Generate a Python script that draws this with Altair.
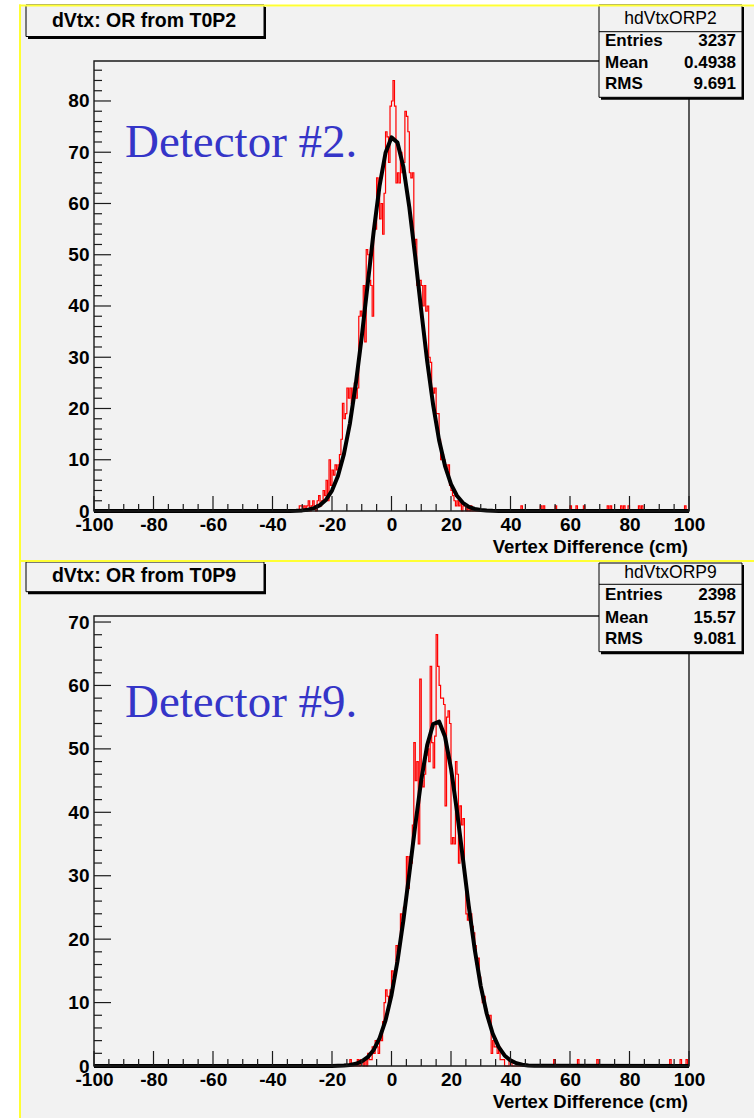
import altair as alt
import pandas as pd

# ---------------------------------------------------------------------------
# Histogram definition: 400 bins of 0.5 cm on [-100, 100]
# ---------------------------------------------------------------------------
BIN_W = 0.5
X_MIN, X_MAX = -100.0, 100.0

# T0P2: counts per 0.5 cm bin, starting at the given lower edge
p2_core_start = -32.0
p2_core_counts = [
    0, 0, 1, 1, 0, 1, 0, 1, 2, 0,
    1, 2, 1, 0, 2, 3, 1, 2, 4, 3,
    6, 2, 10, 5, 8, 7, 9, 8, 9, 11,
    14, 21, 18, 19, 24, 22, 24, 21, 24, 25,
    22, 24, 38, 39, 38, 44, 33, 51, 50, 45,
    44, 38, 56, 55, 65, 62, 57, 60, 54, 62,
    74, 73, 68, 79, 80, 84, 79, 64, 66, 64,
    70, 66, 68, 78, 77, 74, 66, 65, 66, 52,
    53, 44, 43, 45, 44, 40, 44, 39, 40, 30,
    29, 24, 23, 24, 19, 19, 14, 10, 11, 10,
    9, 8, 9, 5, 4, 3, 2, 1, 2, 1,
    2, 0, 1, 1, 0, 1, 0, 1,
]
# isolated single entries far from the peak (lower bin edges)
p2_tail_edges = [43.5, 50.0, 51.0, 55.0, 60.0, 62.0, 64.5, 72.5, 73.5,
                 77.0, 78.0, 79.5, 83.0, 84.0, 98.5]
p2_tail_counts = [1] * len(p2_tail_edges)

# T0P2 gaussian fit curve, sampled every 2 cm
p2_fit_x = [-100, -36, -34, -32, -30, -28, -26, -24, -22, -20, -18, -16, -14,
            -12, -10, -8, -6, -4, -2, 0, 2, 4, 6, 8, 10, 12, 14, 16, 18, 20,
            22, 24, 26, 28, 30, 32, 34, 36, 100]
p2_fit_y = [0.0, 0.01, 0.02, 0.05, 0.12, 0.26, 0.57, 1.15, 2.2, 3.99, 6.83,
            11.1, 17.0, 24.8, 34.0, 44.3, 54.5, 63.5, 69.9, 72.9, 71.9, 67.1,
            59.2, 49.5, 39.1, 29.2, 20.7, 13.8, 8.77, 5.25, 2.98, 1.6, 0.81,
            0.39, 0.18, 0.08, 0.03, 0.01, 0.0]

# T0P9
p9_core_start = -14.0
p9_core_counts = [
    1, 0, 0, 0, 0, 1, 0, 1, 1, 0,
    1, 0, 2, 1, 1, 3, 2, 4, 3, 2,
    5, 4, 7, 10, 12, 11, 10, 12, 15, 14,
    15, 19, 18, 19, 24, 23, 25, 26, 33, 28,
    33, 32, 38, 51, 45, 48, 35, 61, 45, 44,
    46, 49, 50, 48, 63, 51, 47, 52, 68, 63,
    60, 58, 58, 57, 41, 55, 56, 54, 35, 36,
    35, 48, 46, 32, 41, 38, 39, 30, 24, 23,
    25, 24, 22, 21, 19, 16, 17, 14, 12, 10,
    11, 9, 8, 7, 8, 2, 4, 3, 3, 2,
    3, 1, 1, 1, 0, 0, 0, 1, 1,
]
p9_tail_edges = [54.5, 62.5, 69.0, 93.5, 97.0, 99.0]
p9_tail_counts = [1] * len(p9_tail_edges)

p9_fit_x = [-100, -20, -18, -16, -14, -12, -10, -8, -6, -4, -2, 0, 2, 4, 6, 8,
            10, 12, 14, 16, 18, 20, 22, 24, 26, 28, 30, 32, 34, 36, 38, 40, 42,
            44, 46, 48, 50, 100]
p9_fit_y = [0.0, 0.01, 0.03, 0.07, 0.16, 0.35, 0.72, 1.39, 2.54, 4.39, 7.2,
            11.2, 16.5, 23.0, 30.4, 38.0, 45.1, 50.6, 53.9, 54.3, 51.9, 46.9,
            40.2, 32.7, 25.1, 18.3, 12.6, 8.27, 5.12, 3.01, 1.67, 0.88, 0.44,
            0.21, 0.09, 0.04, 0.02, 0.0]

# statistics boxes
p2_stats = {"name": "hdVtxORP2", "entries": "3237", "mean": "0.4938", "rms": "9.691"}
p9_stats = {"name": "hdVtxORP9", "entries": "2398", "mean": "15.57", "rms": "9.081"}

# axis ticks
x_major = list(range(-100, 101, 20))
x_minor = [v for v in range(-100, 101, 5) if v % 20 != 0]

# ---------------------------------------------------------------------------
# Styling
# ---------------------------------------------------------------------------
W, H = 595, 450
FONT = "Liberation Sans"
SERIF = "Liberation Serif"
CANVAS = "#f2f2f2"
YELLOW = "#ffff33"
BLUE = "#3535c8"
RED = "#ff0000"
INK = "#1a1a1a"


def hist_frame(start, counts, tail_edges, tail_counts):
    n = int(round((X_MAX - X_MIN) / BIN_W))
    vals = [0] * n
    i0 = int(round((start - X_MIN) / BIN_W))
    for k, c in enumerate(counts):
        vals[i0 + k] = c
    for e, c in zip(tail_edges, tail_counts):
        vals[int(round((e - X_MIN) / BIN_W))] += c
    edges = [X_MIN + BIN_W * i for i in range(n)] + [X_MAX]
    return pd.DataFrame({"x": edges, "count": vals + [vals[-1]]})


def one():
    return pd.DataFrame({"k": [0]})


def rect(x, x2, y, y2, fill, stroke=None, sw=0, fill_opacity=1.0):
    kw = dict(fill=fill, strokeWidth=sw, fillOpacity=fill_opacity)
    if stroke:
        kw["stroke"] = stroke
    return alt.Chart(one()).mark_rect(**kw).encode(
        x=alt.value(x), x2=alt.value(x2), y=alt.value(y), y2=alt.value(y2)
    )


def hline(x, x2, y, color=INK, sw=1.2):
    return alt.Chart(one()).mark_rule(color=color, strokeWidth=sw).encode(
        x=alt.value(x), x2=alt.value(x2), y=alt.value(y)
    )


def label(s, x, y, size, align="left", weight="bold", color="black", font=FONT):
    return alt.Chart(one()).mark_text(
        text=s, align=align, baseline="alphabetic", fontSize=size,
        fontWeight=weight, font=font, color=color,
    ).encode(x=alt.value(x), y=alt.value(y))


def panel(hist, fit_x, fit_y, y_top, y_label_max, stats, title, detector,
          geo, first):
    xs = alt.Scale(domain=[X_MIN, X_MAX], nice=False, zero=False)
    ys = alt.Scale(domain=[0, y_top], nice=False, zero=True)
    ax_x = alt.Axis(values=x_major, labelFont=FONT, labelFontSize=19,
                    labelFontWeight="bold", labelColor="black", labelPadding=4,
                    labelFlush=False, labelOverlap=False, ticks=False,
                    domain=False, grid=False, title=None, zindex=1,
                    labelExpr="'' + datum.value")
    y_major = list(range(0, y_label_max + 1, 10))
    y_minor = [v for v in range(0, int(y_top) + 1, 2) if v % 10 != 0]
    ax_y = alt.Axis(values=y_major, labelFont=FONT, labelFontSize=19,
                    labelFontWeight="bold", labelColor="black", labelPadding=5,
                    labelFlush=False, labelOverlap=False, ticks=False,
                    domain=False, grid=False, title=None, zindex=1,
                    labelExpr="'' + datum.value")

    layers = []
    if first:
        # page background and the gray canvas of both pads
        layers.append(rect(-94, 660, -61, 1057, "white"))
        layers.append(rect(-73, 660, -54.5, 1057, CANVAS))

    layers.append(
        alt.Chart(hist).mark_line(interpolate="step-after", color=RED,
                                  strokeWidth=1.2).encode(
            x=alt.X("x:Q", scale=xs, axis=ax_x),
            y=alt.Y("count:Q", scale=ys, axis=ax_y),
        )
    )
    layers.append(
        alt.Chart(pd.DataFrame({"x": fit_x, "f": fit_y})).mark_line(
            color="black", strokeWidth=4, strokeJoin="round"
        ).encode(
            x=alt.X("x:Q", scale=xs, axis=ax_x),
            y=alt.Y("f:Q", scale=ys, axis=ax_y),
        )
    )
    # inward ticks on the x axis
    for vals, length in ((x_major, 15), (x_minor, 7)):
        layers.append(
            alt.Chart(pd.DataFrame({"t": vals})).mark_rule(
                color=INK, strokeWidth=1.2).encode(
                x=alt.X("t:Q", scale=xs, axis=ax_x),
                y=alt.value(H), y2=alt.value(H - length),
            )
        )
    # inward ticks on the y axis
    for vals, length in ((y_major, 17), (y_minor, 8)):
        layers.append(
            alt.Chart(pd.DataFrame({"t": vals})).mark_rule(
                color=INK, strokeWidth=1.2).encode(
                y=alt.Y("t:Q", scale=ys, axis=ax_y),
                x=alt.value(0), x2=alt.value(length),
            )
        )
    # frame
    layers.append(rect(0, W, 0, H, CANVAS, stroke=INK, sw=1.4, fill_opacity=0))

    # axis title and detector tag
    layers.append(label("Vertex Difference (cm)", 594, H + 42, 18.5, align="right"))
    layers.append(label(detector, 31, geo["det"], 47, weight="normal",
                        color=BLUE, font=SERIF))

    # histogram title box
    t_top, t_bot = geo["title_box"]
    layers.append(rect(-66, 172, t_top + 2, t_bot + 2.5, "black"))
    layers.append(rect(-68, 170, t_top, t_bot, CANVAS, stroke="black", sw=1))
    layers.append(label(title, 50, geo["title_base"], 19.5, align="center"))

    # statistics box
    s_top, s_sep, s_bot = geo["stats_box"]
    layers.append(rect(507, 650, s_top + 2, s_bot + 2.5, "black"))
    layers.append(rect(505, 648, s_top, s_bot, CANVAS, stroke="black", sw=1))
    layers.append(hline(505, 648, s_sep, color="black", sw=1))
    layers.append(label(stats["name"], 576.5, geo["head"], 17.5,
                        align="center", weight="normal"))
    rows = [("Entries", stats["entries"]), ("Mean", stats["mean"]),
            ("RMS", stats["rms"])]
    for (k, v), yb in zip(rows, geo["rows"]):
        layers.append(label(k, 511, yb, 17))
        layers.append(label(v, 642, yb, 17, align="right"))

    # yellow slide borders
    if first:
        layers.append(rect(-75, 660, -56.5, -54.5, YELLOW))
        layers.append(rect(-75, -73, -56.5, 1057, YELLOW))
    else:
        layers.append(rect(-75, 660, -56, -54, YELLOW))

    return alt.layer(*layers).properties(width=W, height=H)


h2 = hist_frame(p2_core_start, p2_core_counts, p2_tail_edges, p2_tail_counts)
h9 = hist_frame(p9_core_start, p9_core_counts, p9_tail_edges, p9_tail_counts)

geo2 = {"det": 96, "title_box": (-56, -24.5), "title_base": -34.3,
        "stats_box": (-56, -29.3, 36.3), "head": -37, "rows": (-15.3, 7.3, 28.3)}
geo9 = {"det": 101, "title_box": (-54, -24.3), "title_base": -33.7,
        "stats_box": (-53, -31.7, 35.7), "head": -37.7, "rows": (-16, 6.7, 28)}

top = panel(h2, p2_fit_x, p2_fit_y, 87.8, 80, p2_stats,
            "dVtx: OR from T0P2", "Detector #2.", geo2, True)
bottom = panel(h9, p9_fit_x, p9_fit_y, 70.95, 70, p9_stats,
               "dVtx: OR from T0P9", "Detector #9.", geo9, False)

chart = (
    alt.vconcat(top, bottom, spacing=105, bounds="flush")
    .configure(background="white", padding=0)
    .configure_view(stroke=None)
)

chart.save("out.html", embed_options={"renderer": "svg", "actions": False})
